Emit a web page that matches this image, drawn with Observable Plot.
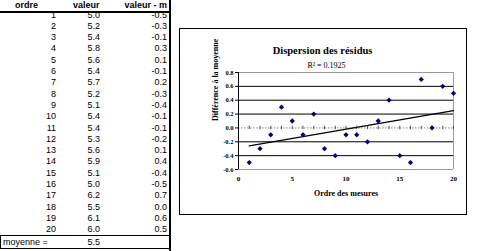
<!DOCTYPE html>
<html>
<head>
<meta charset="utf-8">
<script src="https://cdn.jsdelivr.net/npm/d3@7"></script>
<script src="https://cdn.jsdelivr.net/npm/@observablehq/plot@0.6"></script>
<style>
html, body { margin: 0; padding: 0; background: #fff; }
#wrap { position: relative; width: 485px; height: 251px; overflow: hidden; font-family: "Liberation Sans", Arial, sans-serif; }
.cell { position: absolute; height: 11px; line-height: 11px; font-size: 9px; color: #000; white-space: nowrap; }
.hd { font-weight: bold; }
.line { position: absolute; background: #000; }
#frame { position: absolute; left: 179px; top: 28px; width: 288px; height: 187px; box-sizing: border-box; border: 1px solid #000; }
#chart { position: absolute; left: 179px; top: 28px; }
</style>
</head>
<body>
<div id="wrap"></div>
<script>
// ---- data ----
const ordre = [1, 2, 3, 4, 5, 6, 7, 8, 9, 10, 11, 12, 13, 14, 15, 16, 17, 18, 19, 20];
const valeur = [5.0, 5.2, 5.4, 5.8, 5.6, 5.4, 5.7, 5.2, 5.1, 5.4, 5.4, 5.3, 5.6, 5.9, 5.1, 5.0, 6.2, 5.5, 6.1, 6.0];
const ecart = [-0.5, -0.3, -0.1, 0.3, 0.1, -0.1, 0.2, -0.3, -0.4, -0.1, -0.1, -0.2, 0.1, 0.4, -0.4, -0.5, 0.7, 0.0, 0.6, 0.5];
const moyenne = 5.5;
const headers = ["ordre", "valeur", "valeur - m"];
const moyenneLabel = "moyenne =";
const yTicks = [-0.6, -0.4, -0.2, 0.0, 0.2, 0.4, 0.6, 0.8];
const xTicks = [0, 5, 10, 15, 20];
const minorTicks = [0, 1, 2, 3, 4, 5, 6, 7, 8, 9, 10, 11, 12, 13, 14, 15, 16, 17, 18, 19, 20];
const gridLines = [-0.4, -0.2, 0.2, 0.4, 0.6];
const edgeLines = [-0.6, 0.8];
const titre = "Dispersion des résidus";
const r2Label = "R² = 0.1925";
const xLabel = "Ordre des mesures";
const yLabel = "Différence à la moyenne";

// ---- table ----
const wrap = d3.select("#wrap");
function cell(text, top, opts) {
  const d = wrap.append("div").attr("class", "cell" + (opts.bold ? " hd" : "")).text(text)
    .style("top", top + "px");
  if (opts.right != null) d.style("right", (485 - opts.right) + "px").style("text-align", "right");
  else d.style("left", opts.left + "px");
  return d;
}
cell(headers[0], 0, {left: 15, bold: true});
cell(headers[1], 0, {left: 73, bold: true});
cell(headers[2], 0, {right: 167, bold: true});
wrap.append("div").attr("class", "line").style("left", "0px").style("top", "11px").style("width", "169px").style("height", "1.5px");
ordre.forEach((o, i) => {
  const top = 15 + i * 11.3 - 5.5;
  cell(String(o), top, {right: 56});
  cell(valeur[i].toFixed(1), top, {right: 100});
  cell(ecart[i].toFixed(1), top, {right: 167});
});
cell(moyenneLabel, 236.5, {left: 3});
cell(moyenne.toFixed(1), 236.5, {right: 100});
wrap.append("div").style("position", "absolute").style("left", "0px").style("top", "235px")
  .style("width", "170px").style("height", "14px").style("box-sizing", "border-box").style("border", "1px solid #000");
wrap.append("div").attr("class", "line").style("left", "168.5px").style("top", "0px").style("width", "2px").style("height", "251px");

// ---- chart ----
wrap.append("div").attr("id", "frame");
const data = ordre.map((o, i) => ({ordre: o, ecart: ecart[i]}));
const serif = "'Liberation Serif', 'Times New Roman', serif";
const chart = Plot.plot({
  width: 288,
  height: 187,
  marginLeft: 59,
  marginRight: 14,
  marginTop: 44,
  marginBottom: 46,
  x: {domain: [0, 20], label: null},
  y: {domain: [-0.6, 0.8], label: null},
  style: {fontFamily: serif, fontSize: "7px", fontWeight: "bold", background: "transparent", overflow: "visible", color: "#000"},
  marks: [
    Plot.ruleY(gridLines, {stroke: "#000", strokeWidth: 1}),
    Plot.ruleY(edgeLines, {stroke: "#9a9a9a", strokeWidth: 1}),
    Plot.ruleX([20], {stroke: "#9a9a9a", strokeWidth: 1}),
    Plot.ruleY([0], {stroke: "#888", strokeWidth: 1, strokeDasharray: "1.5,1.5"}),
    Plot.ruleX(minorTicks, {x: d => d, y1: -0.025, y2: 0.025, stroke: "#555", strokeWidth: 1}),
    Plot.ruleX([0], {stroke: "#000", strokeWidth: 1}),
    Plot.axisY(yTicks, {tickSize: 3, tickPadding: 2, tickFormat: d => d.toFixed(1), fontSize: 6.5, fontWeight: "bold", stroke: "#000", label: null}),
    Plot.axisX(xTicks, {tickSize: 0, tickPadding: 7, tickFormat: d => String(d), fontSize: 7, fontWeight: "bold", label: null}),
    Plot.linearRegressionY(data, {x: "ordre", y: "ecart", stroke: "#000", strokeWidth: 1.3, ci: 0}),
    Plot.dot(data, {x: "ordre", y: "ecart", symbol: "square", rotate: 45, fill: "#000080", stroke: "none", r: 2.1}),
    Plot.text([titre], {text: d => d, frameAnchor: "top", dx: -23.5, dy: -26, fontSize: 10.5, fontWeight: "bold", fill: "#000"}),
    Plot.text([r2Label], {text: d => d, frameAnchor: "top", dx: -19.5, dy: -10, fontSize: 8, fontWeight: "normal", fill: "#000"}),
    Plot.text([xLabel], {text: d => d, frameAnchor: "bottom", dy: 26, fontSize: 8, fontWeight: "bold", fill: "#000"}),
    Plot.text([yLabel], {text: d => d, frameAnchor: "left", rotate: -90, dx: -23, fontSize: 8, fontWeight: "bold", fill: "#000"})
  ]
});
chart.id = "chart";
wrap.node().appendChild(chart);
</script>
</body>
</html>
